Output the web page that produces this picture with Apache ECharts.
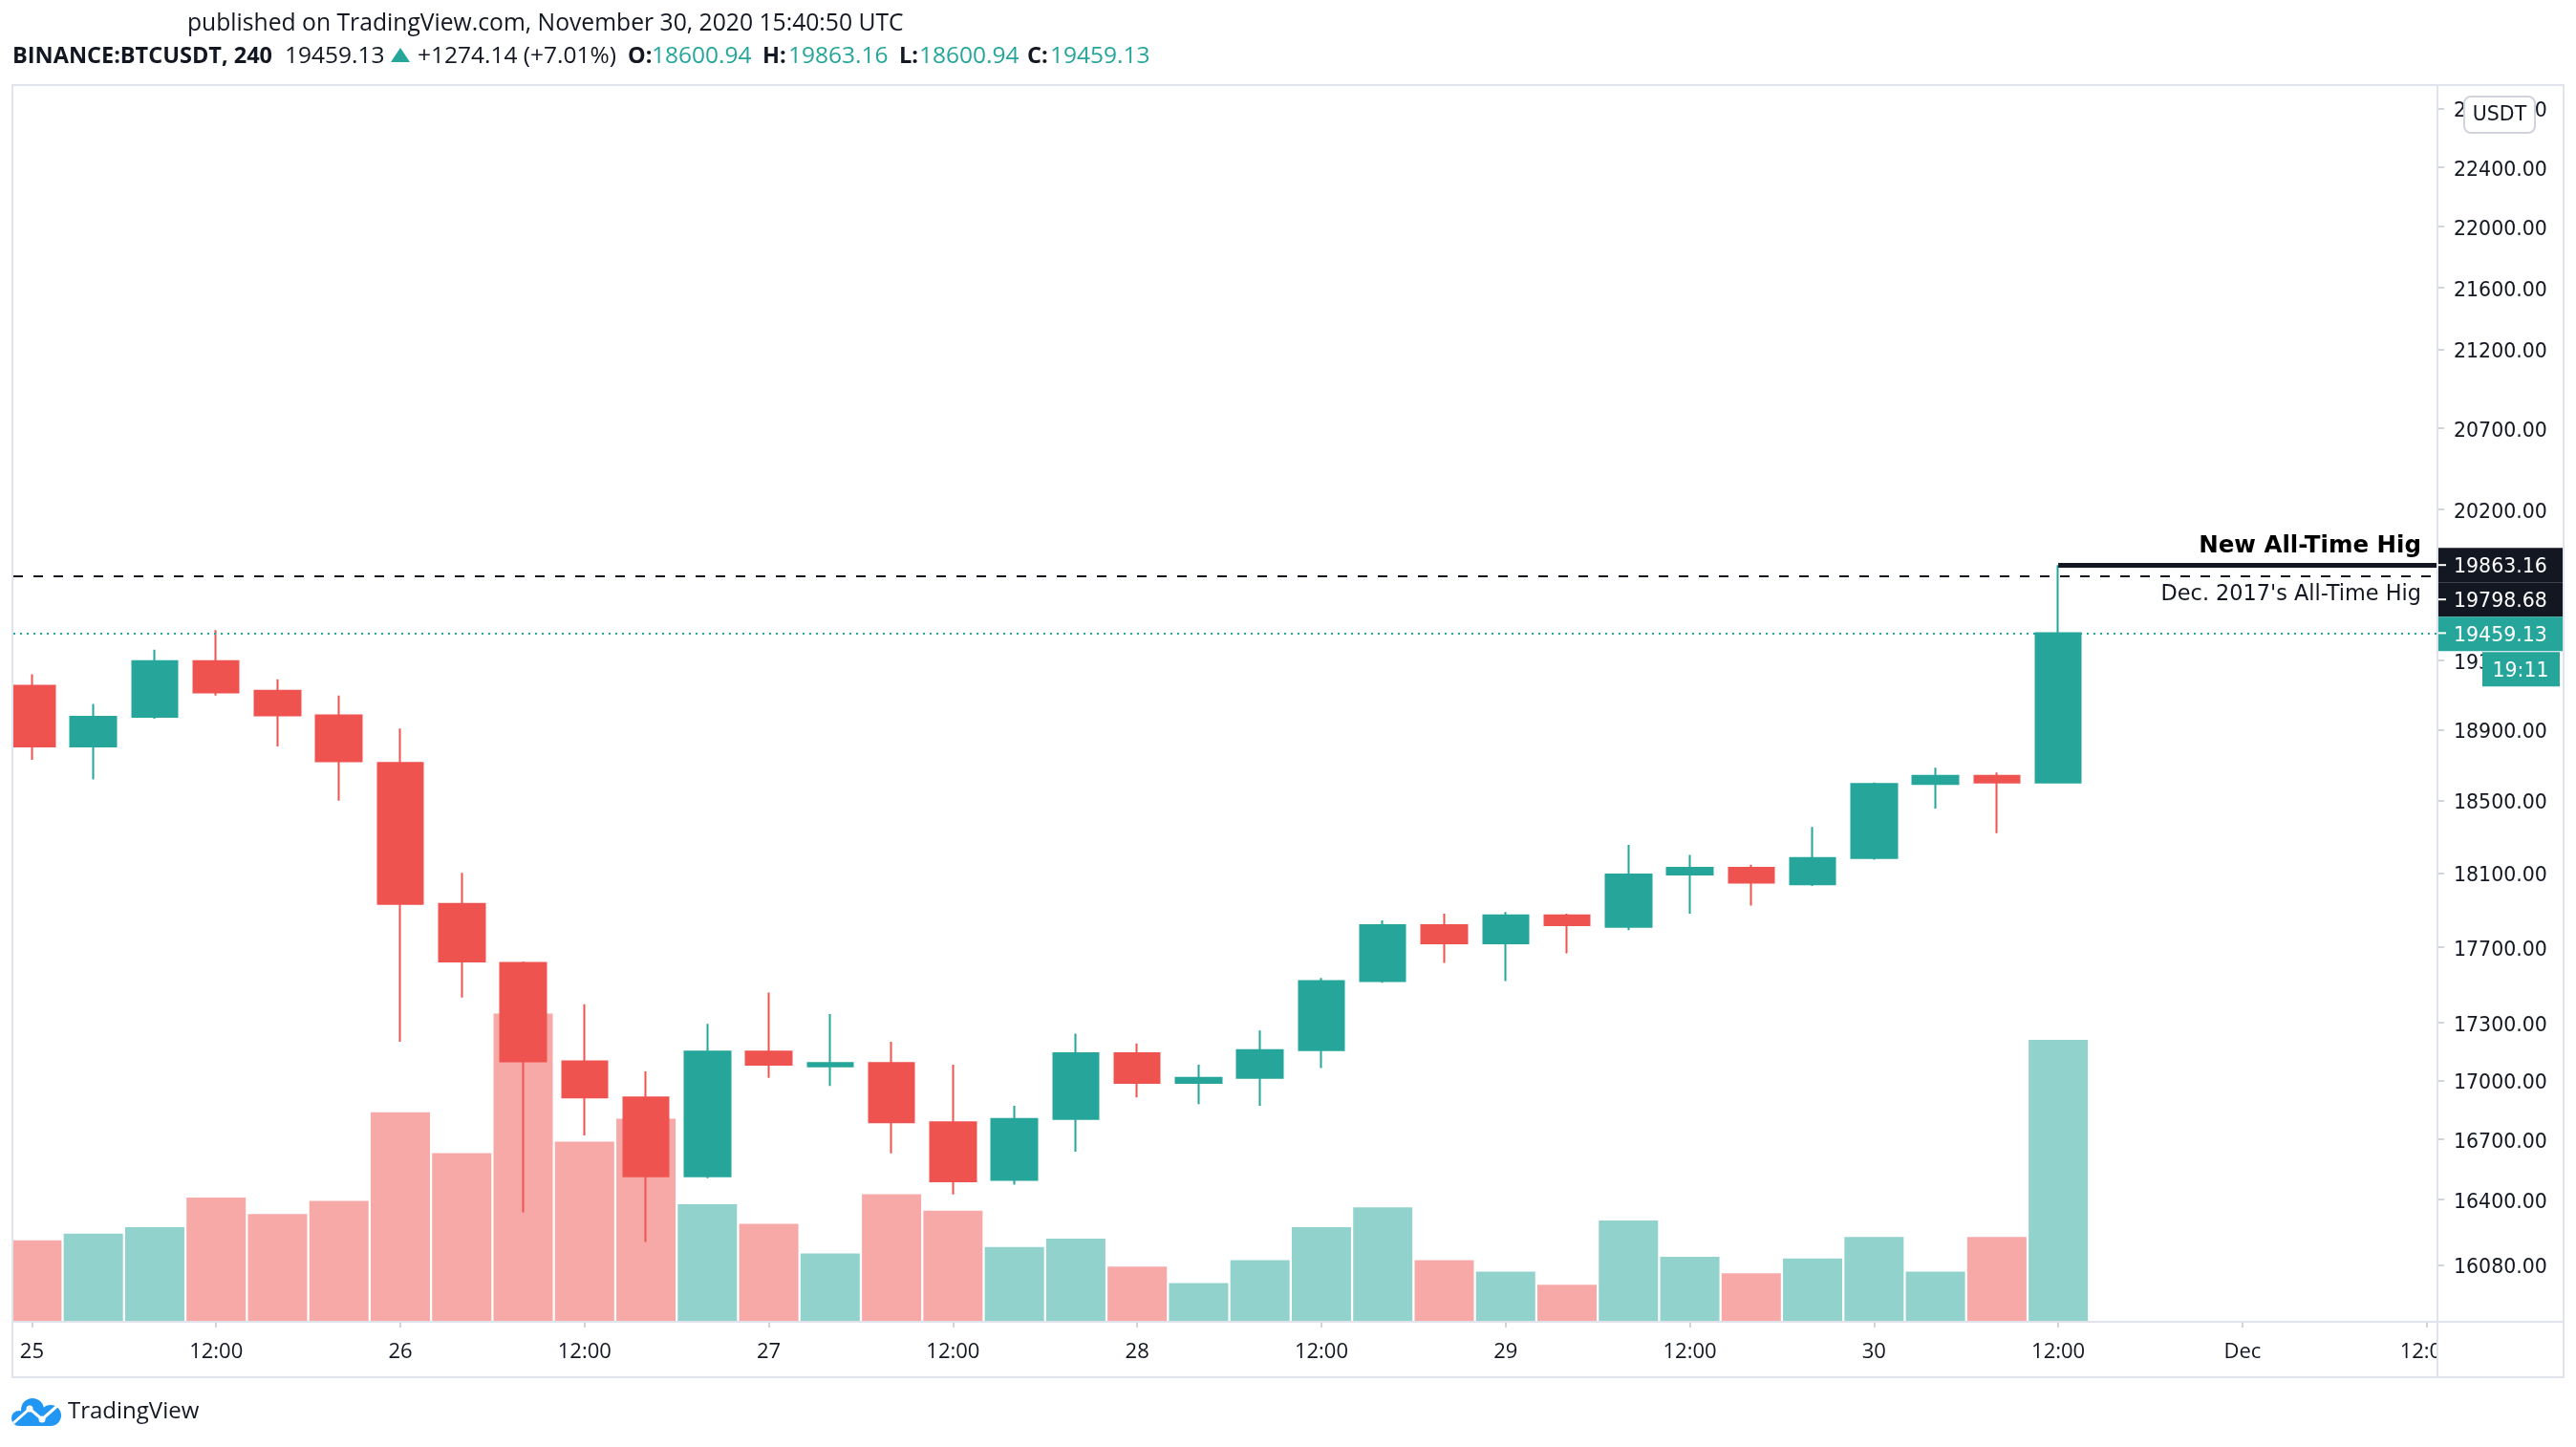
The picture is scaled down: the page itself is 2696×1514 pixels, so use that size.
<!DOCTYPE html>
<html>
<head>
<meta charset="utf-8">
<script src="https://cdn.jsdelivr.net/npm/echarts@6/dist/echarts.min.js"></script>
<style>
html,body{margin:0;padding:0;background:#ffffff;}
#c{width:2696px;height:1514px;}
</style>
</head>
<body>
<div id="c"></div>
<script>
// ---------------- data (BINANCE:BTCUSDT, 240 = 4h candles) ----------------
const times = [
  '2020-11-25 00:00','2020-11-25 04:00','2020-11-25 08:00','2020-11-25 12:00','2020-11-25 16:00','2020-11-25 20:00',
  '2020-11-26 00:00','2020-11-26 04:00','2020-11-26 08:00','2020-11-26 12:00','2020-11-26 16:00','2020-11-26 20:00',
  '2020-11-27 00:00','2020-11-27 04:00','2020-11-27 08:00','2020-11-27 12:00','2020-11-27 16:00','2020-11-27 20:00',
  '2020-11-28 00:00','2020-11-28 04:00','2020-11-28 08:00','2020-11-28 12:00','2020-11-28 16:00','2020-11-28 20:00',
  '2020-11-29 00:00','2020-11-29 04:00','2020-11-29 08:00','2020-11-29 12:00','2020-11-29 16:00','2020-11-29 20:00',
  '2020-11-30 00:00','2020-11-30 04:00','2020-11-30 08:00','2020-11-30 12:00'
];
const openP  = [19152,18804,18973,19295,19123,18982,18711,17931,17614,17098,16913,16515,17149,17073,17090,16787,16498,16804,
                17140,16988,17014,17157,17518,17816,17719,17869,17807,18091,18127,18038,18181,18592,18638,18600.94];
const highP  = [19218,19048,19362,19477,19189,19095,18907,18100,17622,17396,17047,17293,17457,17345,17200,17081,16871,17242,
                17191,17081,17259,17535,17842,17878,17887,17878,18253,18199,18145,18353,18601,18684,18657,19863.16];
const lowP   = [18729,18618,18963,19095,18804,18499,17200,17431,16336,16721,16191,16506,17014,16972,16630,16425,16474,16638,
                16913,16879,16871,17064,17509,17614,17518,17666,17789,17878,17922,18029,18172,18455,18318,18600.94];
const closeP = [18804,18973,19295,19114,18982,18720,17931,17622,17098,16913,16515,17149,17081,17090,16787,16490,16804,17140,
                16988,17014,17157,17518,17816,17719,17869,17816,18091,18127,18047,18181,18592,18638,18600.94,19459.13];
const volume = [9800,10600,11400,15000,13000,14600,25400,20400,37400,21800,24600,14200,11800,8200,15400,13400,9000,10000,
                6600,4600,7400,11400,13800,7400,6000,4400,12200,7800,5800,7600,10200,6000,10200,34200];
const xTickLabels = ['25','12:00','26','12:00','27','12:00','28','12:00','29','12:00','30','12:00','Dec','12:00'];
const priceTicks = [22800,22400,22000,21600,21200,20700,20200,19300,18900,18500,18100,17700,17300,17000,16700,16400,16080];
const newAth = 19863.16;
const oldAth = 19798.68;
const lastPrice = 19459.13;
const countdown = '19:11';
const headerLine1 = 'published on TradingView.com, November 30, 2020 15:40:50 UTC';
const symbolText = 'BINANCE:BTCUSDT, 240';
const changeText = '+1274.14 (+7.01%)';
const ohlcLabels = ['O:', 'H:', 'L:', 'C:'];
const ohlcValues = ['18600.94', '19863.16', '18600.94', '19459.13'];

// ---------------- styles ----------------
const UP = '#26a69a', DOWN = '#ef5350', UPV = '#92d2cc', DOWNV = '#f7a9a7';
const INK = '#131722', FRAME = '#e0e3eb';
const SANS = 'Open Sans', AXF = 'DejaVu Sans';

const chart = echarts.init(document.getElementById('c'), null, {renderer: 'canvas', width: 2696, height: 1514});

const candleData = times.map((t, i) => [i, openP[i], closeP[i], lowP[i], highP[i]]);
const volData = times.map((t, i) => ({
  value: [i, volume[i]],
  itemStyle: {color: closeP[i] >= openP[i] ? UPV : DOWNV}
}));
const xTickValues = xTickLabels.map((_, k) => k * 3);

const option = {
  animation: false,
  backgroundColor: '#ffffff',
  grid: {left: 14, right: 146, top: 89, bottom: 132, containLabel: false, outerBoundsMode: 'none'},
  xAxis: {
    type: 'value', min: -0.302, max: 39.16,
    axisLine: {show: false, onZero: false}, splitLine: {show: false},
    axisTick: {show: true, customValues: xTickValues, length: 7, lineStyle: {color: '#d1d4dc', width: 2}},
    axisLabel: {
      customValues: xTickValues,
      formatter: v => xTickLabels[Math.round(v / 3)],
      margin: 22, color: INK, fontFamily: SANS, fontSize: 22
    }
  },
  yAxis: [
    {
      type: 'log', position: 'right', min: 15810, max: 22961,
      axisLine: {show: false, onZero: false}, splitLine: {show: false},
      axisTick: {show: true, customValues: priceTicks, length: 8, lineStyle: {color: '#d1d4dc', width: 2}},
      axisLabel: {
        customValues: priceTicks,
        formatter: v => Number(v).toFixed(2),
        margin: 18, color: INK, fontFamily: AXF, fontSize: 20.5,
        verticalAlign: 'top', lineHeight: 7
      }
    },
    {type: 'value', min: 0, max: 150400, show: false, splitLine: {show: false}, axisLine: {onZero: false}}
  ],
  series: [
    {
      type: 'bar', name: 'Volume', xAxisIndex: 0, yAxisIndex: 1,
      data: volData, barWidth: 62, silent: true
    },
    {
      type: 'candlestick', name: 'BTCUSDT', xAxisIndex: 0, yAxisIndex: 0,
      data: candleData, barWidth: 48,
      itemStyle: {color: UP, color0: DOWN, borderColor: UP, borderColor0: DOWN, borderWidth: 2},
      markLine: {
        silent: true, symbol: ['none', 'none'], animation: false,
        data: [
          [
            {coord: [33, newAth],
             lineStyle: {color: INK, width: 5, type: 'solid'},
             label: {show: true, position: 'insideEndTop', formatter: 'New All-Time Hig',
                     distance: [16, 7], color: '#000000', fontFamily: AXF, fontSize: 24.5, fontWeight: 'bold'}},
            {coord: [39.16, newAth]}
          ],
          {yAxis: oldAth,
           lineStyle: {color: INK, width: 2, type: [10, 11]},
           label: {show: true, position: 'insideEndBottom', formatter: "Dec. 2017's All-Time Hig",
                   distance: [16, 9], color: INK, fontFamily: AXF, fontSize: 22.4}},
          {yAxis: lastPrice,
           lineStyle: {color: UP, width: 2, type: [2, 5]},
           label: {show: false}}
        ]
      }
    }
  ]
};
chart.setOption(option);

// ---------------- overlay (frame, header, price badges, logo) ----------------
const py = v => chart.convertToPixel({yAxisIndex: 0}, v);
const yA = py(newAth), yB = py(oldAth), yC = py(lastPrice);
const BH = 36;
const aTop = yA - BH / 2;
const bTop = Math.max(yB - BH / 2, aTop + BH);
const cTop = Math.max(yC - BH / 2, bTop + BH);
const dTop = cTop + BH + 1;

const badge = (id, top, left, w, fill, text, tx, align) => [
  {type: 'rect', id: id + 'r', z: 120, shape: {x: left, y: top, width: w, height: BH}, style: {fill: fill}},
  {type: 'text', id: id + 't', z: 121, style: {x: tx, y: top + BH / 2 + 2, text: text, fill: '#ffffff',
    font: '20.5px "DejaVu Sans"', align: align, verticalAlign: 'middle'}}
];
const hText = (id, x, text, weight, color, size) => ({
  type: 'text', id: id, z: 110,
  style: {x: x, y: 59.5, text: text, fill: color, font: weight + ' ' + size + 'px "Open Sans"', verticalAlign: 'middle'}
});
const ohlcLabelX = [657, 798, 941, 1075];
const ohlcValueX = [682, 825, 962, 1099];

const graphic = [
  // mask left of plot frame (clip)
  {type: 'rect', id: 'clipl', z: 100, shape: {x: 0, y: 60, width: 12, height: 1390}, style: {fill: '#ffffff'}},
  // clip of x labels under the price scale panel
  {type: 'rect', id: 'clipx', z: 100, shape: {x: 2552, y: 1385, width: 130, height: 55}, style: {fill: '#ffffff'}},
  // frame
  {type: 'rect', id: 'frame', z: 101, shape: {x: 13, y: 89, width: 2670, height: 1352}, style: {fill: null, stroke: FRAME, lineWidth: 2}},
  {type: 'line', id: 'vsep', z: 101, shape: {x1: 2551, y1: 89, x2: 2551, y2: 1441}, style: {stroke: FRAME, lineWidth: 2}},
  {type: 'line', id: 'hsep', z: 101, shape: {x1: 13, y1: 1383, x2: 2683, y2: 1383}, style: {stroke: FRAME, lineWidth: 2}},
  // header
  {type: 'text', id: 'h1', z: 110, style: {x: 196, y: 25, text: headerLine1, fill: INK,
    font: '24.7px "Open Sans"', verticalAlign: 'middle'}},
  hText('hs', 13, symbolText, 'bold', INK, 23.5),
  hText('hp', 298, ohlcValues[3], 'normal', INK, 24.5),
  {type: 'polygon', id: 'htri', z: 110, shape: {points: [[409, 65], [429, 65], [419, 50]]}, style: {fill: UP}},
  hText('hc', 437, changeText, 'normal', INK, 24.5),
  ...ohlcLabels.map((l, k) => hText('hl' + k, ohlcLabelX[k], l, 'bold', INK, 23.5)),
  ...ohlcValues.map((v, k) => hText('hv' + k, ohlcValueX[k], v, 'normal', UP, 24.5)),
  // USDT unit badge
  {type: 'rect', id: 'usdt', z: 120, shape: {x: 2579, y: 101, width: 74, height: 38, r: 7},
    style: {fill: '#ffffff', stroke: '#d1d4dc', lineWidth: 2}},
  {type: 'text', id: 'usdtT', z: 121, style: {x: 2616, y: 121, text: 'USDT', fill: INK,
    font: '20.5px "DejaVu Sans"', align: 'center', verticalAlign: 'middle'}},
  ...badge('ba', aTop, 2552, 130, INK, newAth.toFixed(2), 2568, 'left'),
  ...badge('bb', bTop, 2552, 130, INK, oldAth.toFixed(2), 2568, 'left'),
  ...badge('bc', cTop, 2552, 130, UP, lastPrice.toFixed(2), 2568, 'left'),
  ...badge('bd', dTop, 2598, 81, UP, countdown, 2638, 'center'),
  {type: 'line', id: 'tka', z: 122, shape: {x1: 2552, y1: yA, x2: 2560, y2: yA}, style: {stroke: '#ffffff', lineWidth: 2}},
  {type: 'line', id: 'tkb', z: 122, shape: {x1: 2552, y1: bTop + BH / 2, x2: 2560, y2: bTop + BH / 2}, style: {stroke: '#ffffff', lineWidth: 2}},
  {type: 'line', id: 'tkc', z: 122, shape: {x1: 2552, y1: yC, x2: 2560, y2: yC}, style: {stroke: '#ffffff', lineWidth: 2}},
  // TradingView logo
  {type: 'circle', id: 'lg1', z: 110, shape: {cx: 20, cy: 1484, r: 8}, style: {fill: '#2196f3'}},
  {type: 'circle', id: 'lg2', z: 110, shape: {cx: 34, cy: 1475, r: 12}, style: {fill: '#2196f3'}},
  {type: 'circle', id: 'lg3', z: 110, shape: {cx: 53, cy: 1481, r: 11}, style: {fill: '#2196f3'}},
  {type: 'rect', id: 'lg4', z: 110, shape: {x: 20, y: 1478, width: 33, height: 14}, style: {fill: '#2196f3'}},
  {type: 'polyline', id: 'lg5', z: 111, shape: {points: [[14, 1489], [31, 1474], [44, 1485], [60, 1471]]},
    style: {stroke: '#ffffff', lineWidth: 3, fill: null}},
  {type: 'circle', id: 'lg6', z: 112, shape: {cx: 31, cy: 1474, r: 3.5}, style: {fill: '#ffffff'}},
  {type: 'circle', id: 'lg7', z: 112, shape: {cx: 44, cy: 1485, r: 3.5}, style: {fill: '#ffffff'}},
  {type: 'text', id: 'lgt', z: 110, style: {x: 71, y: 1477, text: 'TradingView', fill: INK,
    font: '24px "Open Sans"', verticalAlign: 'middle'}}
];
chart.setOption({graphic: graphic});
</script>
</body>
</html>
